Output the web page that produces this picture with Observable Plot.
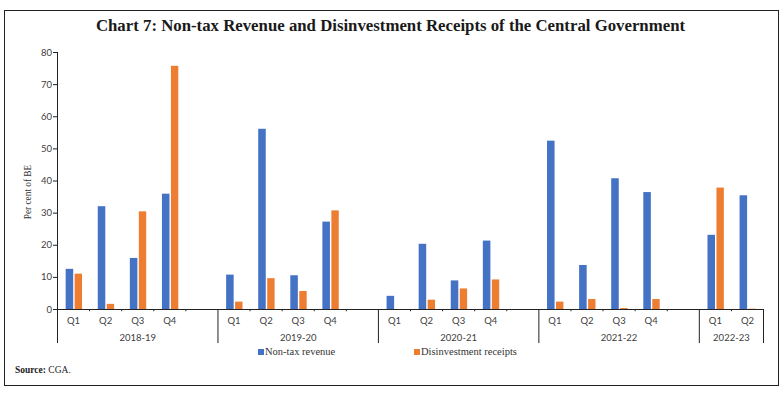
<!DOCTYPE html>
<html>
<head>
<meta charset="utf-8">
<script src="https://cdn.jsdelivr.net/npm/d3@7"></script>
<script src="https://cdn.jsdelivr.net/npm/@observablehq/plot@0.6"></script>
<style>
  html, body { margin: 0; padding: 0; background: #fff; }
  #wrap { position: relative; width: 784px; height: 393px; overflow: hidden; background: #fff; }
  #frame { position: absolute; left: 4px; top: 10px; width: 773px; height: 374px; border: 1px solid #222; }
  #title { position: absolute; left: 0; width: 781px; top: 16px; text-align: center;
           font-family: "Liberation Serif", serif; font-weight: bold; font-size: 16.8px; color: #1a1a1a; }
  #chart { position: absolute; left: 0; top: 0; }
  #ylabel { position: absolute; left: 28px; top: 192px; transform: translate(-50%, -50%) rotate(-90deg);
            font-family: "Liberation Serif", serif; font-size: 9.3px; color: #333; white-space: nowrap; }
  .leg { position: absolute; top: 346px; font-family: "Liberation Serif", serif; font-size: 10.5px; color: #333; white-space: nowrap; }
  .sw { display: inline-block; width: 6px; height: 6px; margin-right: 1px; vertical-align: 0px; }
  #source { position: absolute; left: 15px; top: 365px; font-family: "Liberation Serif", serif; font-size: 9.5px; color: #222; }
</style>
</head>
<body>
<div id="wrap">
  <div id="frame"></div>
  <div id="title">Chart 7: Non-tax Revenue and Disinvestment Receipts of the Central Government</div>
  <div id="chart"></div>
  <div id="ylabel">Per cent of BE</div>
  <div class="leg" style="left:258px"><span class="sw" style="background:#4472C4"></span>Non-tax revenue</div>
  <div class="leg" style="left:414px"><span class="sw" style="background:#ED7D31"></span>Disinvestment receipts</div>
  <div id="source"><b>Source:</b> CGA.</div>
</div>
<script>
const years = ["2018-19", "2019-20", "2020-21", "2021-22", "2022-23"];
const quarterCounts = [4, 4, 4, 4, 2];
const quarters = ["Q1", "Q2", "Q3", "Q4"];
const nonTaxRevenue = [12.5, 32.0, 15.9, 35.9,  10.7, 56.1, 10.5, 27.2,  4.1, 20.3, 8.9, 21.3,  52.4, 13.7, 40.7, 36.4,  23.1, 35.4];
const disinvestment = [11.0, 1.6, 30.4, 75.7,  2.3, 9.6, 5.6, 30.7,  0.0, 2.9, 6.4, 9.2,  2.3, 3.1, 0.3, 3.1,  37.8, 0.1];
const yTicks = [0, 10, 20, 30, 40, 50, 60, 70, 80];

const colors = { ntr: "#4472C4", dr: "#ED7D31" };

// Build slot layout: each year gets its quarters plus one blank slot (except the last year)
const rows = [];
const yearSpans = [];
let slot = 0, k = 0;
years.forEach((yr, yi) => {
  const start = slot;
  for (let q = 0; q < quarterCounts[yi]; q++) {
    rows.push({ year: yr, q: quarters[q], slot, ntr: nonTaxRevenue[k], dr: disinvestment[k] });
    slot++; k++;
  }
  if (yi < years.length - 1) slot++; // blank gap slot
  yearSpans.push({ year: yr, start, end: slot });
});
const totalSlots = slot;
const boundaries = d3.range(0, totalSlots + 1);
const groupEdges = new Set(yearSpans.flatMap(d => [d.start, d.end]));
const smallTicks = boundaries.filter(b => !groupEdges.has(b));
const bigTicks = boundaries.filter(b => groupEdges.has(b));

const chart = Plot.plot({
  width: 784,
  height: 350,
  marginLeft: 57,
  marginRight: 21,
  marginTop: 52,
  marginBottom: 41,
  style: { fontFamily: "Lato, sans-serif", fontSize: "9.5px", color: "#404040", background: "transparent" },
  x: { domain: [0, totalSlots], axis: null },
  y: { domain: [0, 80] },
  marks: [
    Plot.rect(rows, { x1: d => d.slot + 0.27, x2: d => d.slot + 0.505, y1: 0, y2: "ntr", fill: colors.ntr }),
    Plot.rect(rows, { x1: d => d.slot + 0.55, x2: d => d.slot + 0.78, y1: 0, y2: "dr", fill: colors.dr }),
    Plot.axisY(yTicks, { tickSize: 4, tickPadding: 1.5, label: null, stroke: "#222", fill: "#404040" }),
    Plot.ruleX([0], { y1: 0, y2: 80, stroke: "#222" }),
    Plot.ruleY([0], { x1: 0, x2: totalSlots, stroke: "#222" }),
    Plot.ruleX(smallTicks, { x: d => d, y1: 0, y2: -0.7, stroke: "#222" }),
    Plot.ruleX(bigTicks, { x: d => d, y1: 0, y2: -10.6, stroke: "#222" }),
    Plot.text(rows, { x: d => d.slot + 0.5, y: 0, dy: 11.5, text: "q", fill: "#404040" }),
    Plot.text(yearSpans, { x: d => (d.start + d.end) / 2, y: 0, dy: 28, text: "year", fill: "#404040" })
  ]
});
document.getElementById("chart").appendChild(chart);
</script>
</body>
</html>
